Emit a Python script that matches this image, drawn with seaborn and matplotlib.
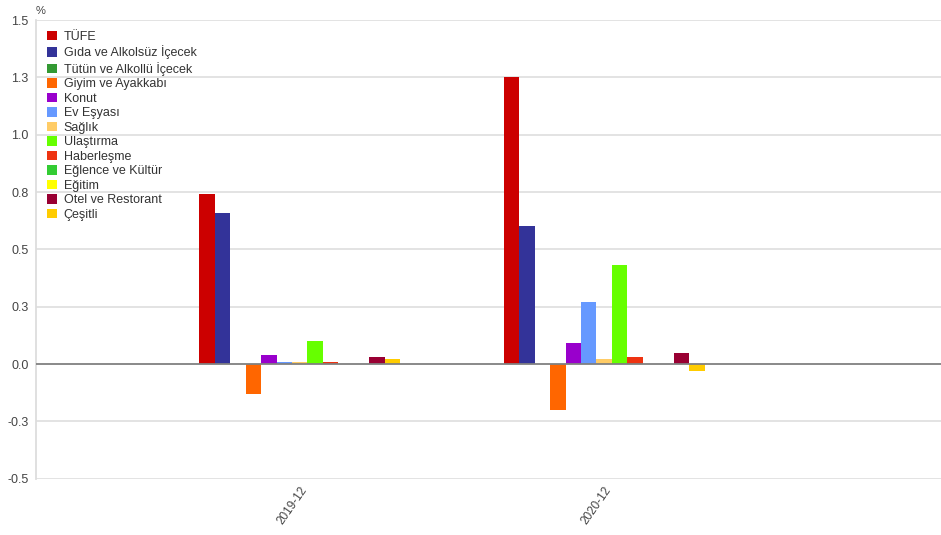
import matplotlib
matplotlib.use("Agg")
import matplotlib.pyplot as plt
import seaborn as sns
import pandas as pd

# Monthly CPI change (%) by expenditure group
periods = ["2019-12", "2020-12"]
groups = [
    "TÜFE", "Gıda ve Alkolsüz İçecek", "Tütün ve Alkollü İçecek",
    "Giyim ve Ayakkabı", "Konut", "Ev Eşyası", "Sağlık", "Ulaştırma",
    "Haberleşme", "Eğlence ve Kültür", "Eğitim", "Otel ve Restorant", "Çeşitli",
]
values_2019 = [0.74, 0.66, 0.00, -0.13, 0.04, 0.01, 0.01, 0.10, 0.01, 0.00, 0.00, 0.03, 0.02]
values_2020 = [1.25, 0.60, 0.00, -0.20, 0.09, 0.27, 0.02, 0.43, 0.03, 0.00, 0.00, 0.05, -0.03]
colors = [
    "#cc0000", "#333399", "#339933", "#ff6600", "#9900cc", "#6699ff", "#ffcc66",
    "#66ff00", "#ee3311", "#33cc33", "#ffff00", "#990033", "#ffcc00",
]
ytick_values = [-0.5, -0.25, 0.0, 0.25, 0.5, 0.75, 1.0, 1.25, 1.5]
ytick_labels = ["-0.5", "-0.3", "0.0", "0.3", "0.5", "0.8", "1.0", "1.3", "1.5"]

df = pd.DataFrame({
    "period": [periods[0]] * len(groups) + [periods[1]] * len(groups),
    "group": groups + groups,
    "value": values_2019 + values_2020,
})

sns.set_style("white")
plt.rcParams["font.family"] = ["Liberation Sans", "DejaVu Sans"]

fig = plt.figure(figsize=(9.41, 5.35), dpi=100)
ax = fig.add_axes([0.0383, 0.1052, 0.9617, 0.8574])

sns.barplot(
    data=df, x="period", y="value", hue="group", order=periods,
    hue_order=groups, palette=colors, width=0.66, saturation=1,
    errorbar=None, ax=ax, linewidth=0,
)

ax.set_xlim(-0.866, 2.106)
ax.set_ylim(-0.5, 1.5)
ax.set_yticks(ytick_values)
ax.set_yticklabels(ytick_labels)
ax.set_xlabel("")
ax.set_ylabel("")

for y in ytick_values:
    if y != 0.0:
        ax.axhline(y, color="#e0e0e0", lw=1.3, zorder=0)
ax.axhline(0.0, color="#808080", lw=1.3, zorder=3)

for side in ["top", "right", "bottom"]:
    ax.spines[side].set_visible(False)
ax.spines["left"].set_color("#dddddd")
ax.spines["left"].set_linewidth(1.3)

ax.tick_params(axis="y", length=0, pad=5.5, labelsize=9, labelcolor="#444444")
ax.tick_params(axis="x", length=0, pad=4, labelsize=8.5, labelcolor="#444444")
for lbl in ax.get_xticklabels():
    lbl.set_rotation(55)
    lbl.set_ha("right")
    lbl.set_rotation_mode("anchor")

leg = ax.legend(
    loc="upper left", bbox_to_anchor=(0.0071, 0.987), frameon=False,
    fontsize=9, handlelength=0.75, handleheight=0.75, handletextpad=0.55,
    labelspacing=0.2, borderaxespad=0,
)
for t in leg.get_texts():
    t.set_color("#333333")

fig.text(0.038, 0.988, "%", fontsize=8, color="#444444", va="top", ha="left")

fig.savefig("out.png", dpi=100)
